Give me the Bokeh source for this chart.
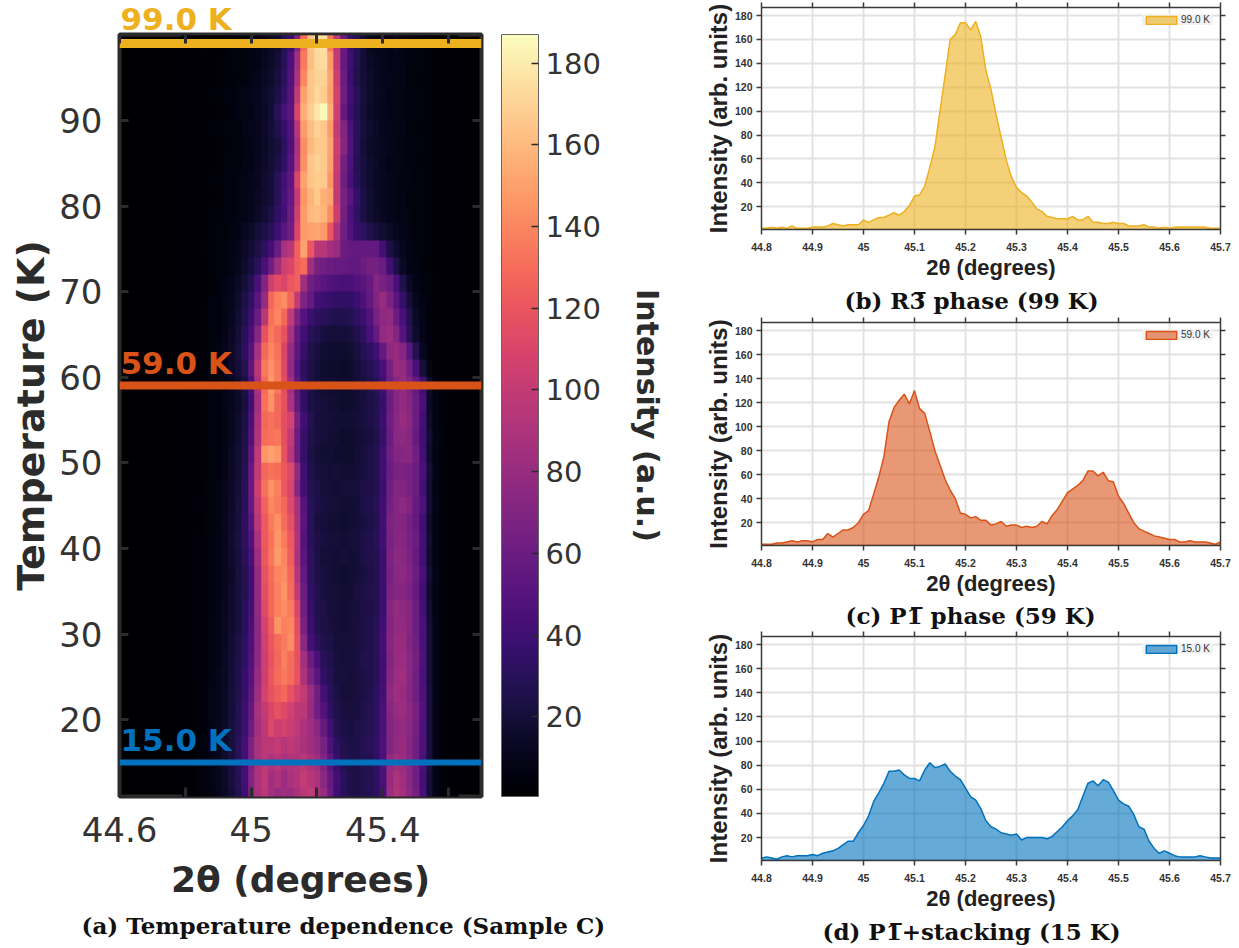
import numpy as np
from bokeh.plotting import figure
from bokeh.layouts import row, column
from bokeh.models import (ColorBar, FixedTicker, Label, Legend, LegendItem, LinearAxis,
                          LinearColorMapper, NumeralTickFormatter, Range1d, Title)
from bokeh.palettes import Magma256
from bokeh.embed import file_html
from bokeh.resources import INLINE

map_first_col = 44.80
map_col_step = 0.02
map_rows = [
[2,3,3,4,2,3,3,6,4,5,9,9,11,15,16,29,37,70,130,164,174,175,134,97,59,36,29,18,12,10,10,9,12,7,6,6,4,4,3,3,2,3],
[2,2,2,3,3,3,4,5,5,6,7,9,12,15,20,30,45,85,135,162,172,174,148,100,58,40,28,19,14,12,10,9,9,7,6,5,5,4,3,3,2,2],
[2,2,3,3,3,3,4,4,6,6,8,10,13,16,22,32,48,90,140,165,170,170,152,104,60,38,26,20,16,12,10,10,8,8,6,5,4,4,3,3,3,2],
[2,2,3,3,4,4,5,6,7,8,10,12,15,18,24,36,50,100,150,165,172,168,150,108,62,42,30,22,16,13,11,9,8,7,6,5,5,4,3,3,2,2],
[2,3,3,3,3,4,4,6,7,8,9,12,14,18,30,44,52,110,155,168,178,186,155,105,58,38,28,20,15,12,10,9,8,7,6,6,5,4,3,3,2,2],
[2,2,3,3,4,4,5,5,6,8,10,11,15,20,26,36,48,95,148,162,170,165,148,100,70,46,30,22,17,14,11,10,8,8,6,5,4,4,3,3,2,2],
[2,2,2,3,3,4,4,5,6,7,9,11,14,18,22,32,46,88,142,160,166,166,152,104,72,48,30,20,15,13,12,10,9,7,6,5,5,4,3,3,2,2],
[2,2,3,3,3,4,5,5,6,8,9,12,15,19,24,34,50,92,144,164,170,166,150,102,64,46,28,22,16,14,11,9,8,7,6,5,4,4,3,3,3,2],
[2,3,3,3,4,4,5,6,7,8,10,12,17,20,30,42,54,110,150,164,168,166,146,100,62,44,30,22,17,13,12,10,9,7,7,5,5,4,3,3,2,2],
[2,2,3,3,3,4,5,6,7,8,10,13,16,20,30,44,56,100,146,158,166,156,152,100,66,52,36,24,18,14,12,10,9,8,6,6,5,4,3,3,2,2],
[2,2,3,3,4,4,5,6,7,9,11,14,18,24,34,42,60,105,148,160,162,158,142,104,64,46,34,24,18,15,12,10,9,8,7,5,5,4,3,3,2,2],
[2,2,3,3,4,5,6,7,9,12,15,20,24,30,40,52,62,110,148,150,152,148,120,90,62,48,36,32,26,22,18,14,11,9,7,6,5,4,3,3,3,2],
[2,3,3,4,4,5,6,8,10,14,18,24,32,42,60,88,95,125,150,120,95,95,85,80,60,58,56,58,56,56,42,24,16,11,8,6,5,4,3,3,2,2],
[2,2,3,3,4,5,6,8,11,16,22,30,44,62,85,105,110,125,130,85,66,62,60,58,58,55,55,60,64,64,60,40,24,14,9,7,5,4,3,3,3,2],
[2,2,3,3,4,6,7,10,14,20,28,44,70,105,115,110,120,125,85,62,56,52,48,46,44,44,48,52,58,72,66,60,44,26,14,9,6,5,4,3,2,2],
[2,2,3,3,5,6,8,11,16,24,34,52,80,128,138,142,128,100,68,56,42,38,36,34,34,34,38,46,56,70,80,68,52,36,20,11,7,5,4,3,2,2],
[2,3,3,4,5,6,8,12,18,26,38,60,96,132,140,128,100,68,50,38,32,30,28,26,26,28,32,38,48,66,76,78,60,44,26,14,8,5,4,3,3,2],
[2,2,3,4,5,6,9,13,20,30,44,72,118,136,128,118,88,56,42,30,26,22,20,20,20,22,26,32,44,58,78,82,70,50,30,16,9,6,4,3,2,2],
[2,3,3,4,5,7,10,15,22,32,50,88,128,140,132,110,80,54,36,26,22,18,17,17,16,18,22,28,32,40,56,76,80,72,52,28,12,6,4,3,3,2],
[2,2,3,4,5,7,10,14,20,28,54,96,135,145,135,112,78,50,32,24,20,17,16,16,15,16,20,24,28,34,44,66,80,78,64,44,20,8,4,3,2,2],
[2,2,3,4,5,6,8,12,16,24,44,90,130,148,135,115,85,54,34,24,20,18,17,17,16,17,19,22,26,30,40,62,74,80,70,58,40,16,7,4,2,2],
[2,3,3,4,5,6,8,11,15,22,40,85,132,145,128,118,90,56,34,24,22,20,18,18,16,17,18,22,24,28,36,60,72,78,72,60,44,14,7,4,3,2],
[2,3,3,4,5,6,8,12,16,24,44,90,128,132,128,116,108,66,40,28,22,20,20,18,18,18,20,22,24,28,38,62,74,80,74,60,42,16,7,4,3,2],
[2,2,3,4,5,6,8,12,17,25,48,92,130,132,134,116,100,60,36,26,22,20,18,18,16,17,18,20,22,26,36,60,74,76,72,58,40,18,8,5,2,2],
[3,3,3,4,5,6,9,13,18,26,52,98,146,150,146,118,95,60,36,24,20,18,18,16,17,16,18,22,24,28,40,62,70,72,74,62,42,16,7,4,3,2],
[2,3,3,4,5,6,9,13,19,28,56,100,128,132,130,122,112,78,40,26,22,20,18,20,18,18,20,22,24,28,40,60,66,68,66,60,44,20,8,4,3,2],
[2,2,3,5,5,7,10,14,20,30,58,104,132,145,138,120,110,72,42,28,24,20,20,18,20,20,20,24,24,28,38,62,70,70,66,60,42,18,7,4,2,2],
[2,3,4,5,6,7,10,15,21,30,56,100,126,140,136,128,112,88,50,30,24,22,20,20,18,18,20,24,26,30,40,64,72,76,70,58,46,18,8,4,3,2],
[2,3,3,5,6,7,11,16,22,32,52,96,122,136,144,130,118,90,52,30,22,20,18,18,17,18,20,22,24,28,40,68,72,70,64,56,40,16,7,4,2,2],
[2,3,4,5,6,8,11,17,23,32,48,90,122,132,146,136,122,92,50,30,24,22,20,20,18,20,20,24,26,30,40,66,72,72,66,60,42,18,7,4,3,2],
[2,3,4,5,6,8,11,16,22,30,44,84,120,134,148,140,124,90,52,32,24,20,20,18,20,18,20,24,26,28,38,68,76,74,68,58,42,16,7,4,2,2],
[3,3,4,5,6,8,11,15,21,28,40,80,118,130,140,142,128,94,56,32,24,22,20,18,17,18,20,22,24,28,38,66,74,76,70,60,44,18,8,4,3,2],
[2,3,4,5,6,8,11,16,21,28,40,78,116,128,138,146,130,100,60,34,26,22,20,20,18,18,22,24,26,28,38,68,72,72,68,58,40,16,7,4,2,2],
[2,3,4,5,6,8,12,16,22,30,42,78,112,128,138,142,136,110,62,36,26,24,20,20,18,20,20,24,24,28,38,72,80,76,72,60,42,18,7,4,3,2],
[3,3,4,5,7,9,12,17,22,30,44,76,108,124,146,138,140,116,66,38,28,24,22,20,18,20,22,24,26,30,40,70,78,78,72,60,44,20,8,4,3,2],
[3,3,4,5,7,9,12,18,24,32,46,76,106,120,130,136,142,118,74,42,32,26,24,20,20,20,22,24,26,30,42,72,80,80,70,62,44,20,8,4,3,2],
[3,3,4,5,7,9,13,18,25,34,48,76,104,118,128,138,130,118,86,60,44,30,26,22,20,20,22,26,26,30,40,70,80,82,74,64,46,20,8,4,3,2],
[3,3,4,5,7,10,13,19,26,36,50,80,104,120,130,135,130,118,90,68,52,34,28,22,22,20,22,24,26,30,40,72,82,84,74,62,44,20,8,4,3,2],
[3,3,4,6,8,10,14,20,26,36,52,84,108,118,124,128,118,108,100,82,62,42,30,24,20,20,22,24,26,32,42,76,84,80,72,62,46,22,8,4,3,2],
[3,3,4,6,8,10,14,20,28,38,56,88,100,110,118,112,106,98,96,80,62,48,34,26,22,22,22,26,28,32,44,72,80,82,76,66,48,22,9,4,3,2],
[3,3,4,6,8,11,15,21,28,38,60,86,98,112,104,108,102,98,90,84,74,58,40,28,24,22,24,26,28,32,44,70,76,78,74,64,46,22,9,4,3,2],
[3,3,5,6,8,11,16,22,30,42,68,88,96,96,100,94,98,94,88,84,78,66,46,32,26,24,24,28,30,34,46,70,78,80,72,62,46,22,9,4,3,2],
[3,3,5,6,8,11,16,22,30,42,68,88,96,90,94,88,92,92,96,90,84,70,52,36,28,25,24,27,28,33,45,78,85,82,74,62,44,22,8,4,3,2],
[3,3,5,6,8,11,15,21,29,42,70,90,98,84,90,82,88,92,100,94,90,74,58,42,30,26,24,26,28,32,44,80,90,84,74,62,42,20,8,4,3,2],
[3,3,4,5,7,10,14,20,28,40,68,88,96,86,80,84,82,88,96,100,88,80,60,40,30,26,24,26,28,32,44,82,92,86,76,64,44,20,8,4,3,2],
]

theta_start = 44.8
theta_step = 0.01
profile_99 = [2,2,3,2,3,2,4,2,2,2,3,3,3,4,6,5,4,5,5,5,9,7,9,11,11,13,15,13,16,21,29,30,37,53,70,100,130,160,164,174,174,168,175,162,134,118,97,78,59,45,36,32,29,24,18,16,12,11,10,10,10,12,9,9,12,7,7,6,6,7,6,6,4,4,4,5,3,3,2,3,2,3,3,3,3,3,3,3,2,2,2]
profile_59 = [2,2,2,3,3,4,5,4,5,5,4,6,6,11,8,11,14,14,16,20,27,30,44,58,75,104,116,122,127,119,130,115,111,96,80,68,56,47,40,28,27,24,25,22,22,18,19,21,17,18,18,16,17,16,17,21,19,26,31,38,45,48,51,55,63,63,59,62,55,54,42,36,28,20,15,13,11,9,8,7,6,6,4,4,5,4,4,4,3,2,4]
profile_15 = [3,4,3,2,4,5,4,5,5,5,6,5,7,8,9,11,14,17,17,24,30,38,50,57,65,75,75,76,72,69,69,67,76,82,78,79,81,75,71,68,61,54,51,44,34,29,27,24,23,22,23,18,20,20,20,20,19,21,25,29,34,38,43,54,65,67,63,68,66,59,51,48,46,39,29,27,17,11,7,9,7,5,4,4,4,4,5,4,3,3,3]

map_x_ticks = [44.6, 44.8, 45.0, 45.2, 45.4, 45.6]
map_x_labels = {44.6: "44.6", 44.8: "", 45.0: "45", 45.2: "", 45.4: "45.4", 45.6: ""}
map_y_ticks = [20, 30, 40, 50, 60, 70, 80, 90]
bar_ticks = [20, 40, 60, 80, 100, 120, 140, 160, 180]
marks = [(99, "99.0 K", "#edb120", 9), (59, "59.0 K", "#d95319", 8), (15, "15.0 K", "#0072bd", 6)]
prof_x_ticks = [44.8, 44.9, 45.0, 45.1, 45.2, 45.3, 45.4, 45.5, 45.6, 45.7]
prof_y_ticks = [20, 40, 60, 80, 100, 120, 140, 160, 180]

DARK = "#2b2b2b"
SERIF = "DejaVu Serif"

def style_map_axis(ax, ticks, hide=False):
    ax.ticker = FixedTicker(ticks=ticks)
    ax.axis_line_color = None
    ax.major_tick_in = 9
    ax.major_tick_out = 0
    ax.major_tick_line_color = DARK
    ax.major_tick_line_width = 3
    ax.minor_tick_line_color = None
    ax.major_label_text_font = "DejaVu Sans"
    ax.major_label_text_font_size = "1px" if hide else "34px"
    ax.major_label_text_color = "#333333"
    ax.major_label_standoff = 0 if hide else 17
    if hide:
        ax.major_label_overrides = {t: "" for t in ticks}
    ax.axis_label_text_font = "DejaVu Sans"
    ax.axis_label_text_font_style = "bold"
    ax.axis_label_text_font_size = "36px"
    ax.axis_label_text_color = DARK

# ---------- left heat map ----------
left = figure(width=690, height=945, output_backend="svg", toolbar_location=None,
              x_range=Range1d(44.6, 45.7), y_range=Range1d(11, 100.1),
              min_border_left=119, min_border_right=209, min_border_top=34, min_border_bottom=149,
              background_fill_color="#000004", outline_line_color=DARK, outline_line_width=4)
left.grid.visible = False
bottom_ax = left.below[0]
left_ax = left.left[0]
mapper = LinearColorMapper(palette=Magma256, low=0.5, high=187)
left.image(image=[np.array(map_rows[::-1], dtype=float)], x=map_first_col - map_col_step / 2, y=10,
           dw=map_col_step * len(map_rows[0]), dh=2 * len(map_rows), color_mapper=mapper)
top_ax = LinearAxis(); style_map_axis(top_ax, map_x_ticks, True); left.add_layout(top_ax, "above")
for t, lab, col, w in marks:
    left.hspan(y=[t], line_color=col, line_width=w)
    if t >= 99:
        left.add_layout(Title(text=lab, text_color=col, text_font="DejaVu Sans", text_font_style="bold",
                              text_font_size="31px", align="left", offset=1, standoff=-4), "above")
    else:
        left.add_layout(Label(x=44.6, y=t, x_offset=1, y_offset=w / 2 + 1, text=lab, text_color=col,
                              text_font="DejaVu Sans", text_font_style="bold", text_font_size="31px",
                              text_baseline="bottom"))

style_map_axis(bottom_ax, map_x_ticks)
bottom_ax.major_label_overrides = map_x_labels
bottom_ax.major_label_standoff = 20
bottom_ax.axis_label = "2θ (degrees)"
bottom_ax.axis_label_standoff = 14
style_map_axis(left_ax, map_y_ticks)
left_ax.axis_label = "Temperature (K)"
left_ax.axis_label_text_font_size = "38px"
left_ax.axis_label_standoff = 3
right_ax = LinearAxis(); style_map_axis(right_ax, map_y_ticks, True); left.add_layout(right_ax, "right")

spacer_ax = LinearAxis(ticker=FixedTicker(ticks=[50]), axis_line_color=None, major_tick_line_color=None,
                       minor_tick_line_color=None, major_tick_in=0, major_tick_out=20,
                       major_label_overrides={50: ""},
                       major_label_text_font_size="1px", major_label_standoff=0)
left.add_layout(spacer_ax, "right")

bar = ColorBar(color_mapper=mapper, ticker=FixedTicker(ticks=bar_ticks), width=37, margin=0, padding=0,
               bar_line_color="#666666", bar_line_width=1,
               major_tick_line_color=DARK, major_tick_line_width=1.5, major_tick_in=7,
               minor_tick_line_color=None, major_label_text_font="DejaVu Sans",
               major_label_text_font_size="29px", major_label_text_color="#333333", label_standoff=7)
left.add_layout(bar, "right")

label_ax = LinearAxis(ticker=FixedTicker(ticks=[]), axis_line_color=None, major_tick_line_color=None,
                      minor_tick_line_color=None, major_tick_in=0, major_tick_out=0,
                      major_label_text_font_size="1px", major_label_standoff=0,
                      axis_label="Intensity (a.u.)", axis_label_text_font="DejaVu Sans",
                      axis_label_text_font_style="bold", axis_label_text_font_size="30px",
                      axis_label_text_color=DARK, axis_label_standoff=26,
                      axis_label_orientation="parallel")
left.add_layout(label_ax, "right")
left.add_layout(Title(text="(a) Temperature dependence (Sample C)", text_font=SERIF, text_font_style="bold",
                      text_font_size="23px", text_color="#111111", align="left", offset=-38, standoff=14), "below")

# ---------- right profiles ----------
def profile(values, label, color, caption, height, top, bottom, cap_off, cap_standoff, margin=0):
    xs = [theta_start + i * theta_step for i in range(len(values))]
    p = figure(width=544, height=height, output_backend="svg", toolbar_location=None,
               x_range=Range1d(44.8, 45.7), y_range=Range1d(1, 186.7),
               min_border_left=71, min_border_right=14, min_border_top=top, min_border_bottom=bottom,
               outline_line_color=None, margin=(margin, 0, 0, 0))
    a = p.patch(x=xs + [xs[-1], xs[0]], y=values + [1, 1], fill_color=color, fill_alpha=0.6,
                line_color=color, line_width=1.5)
    p.xgrid.grid_line_color = "#e2e2e2"
    p.ygrid.grid_line_color = "#e2e2e2"
    p.xgrid.grid_line_width = 2
    p.ygrid.grid_line_width = 2
    p.xgrid.ticker = FixedTicker(ticks=prof_x_ticks)
    p.ygrid.ticker = FixedTicker(ticks=prof_y_ticks)

    def style(ax, ticks, hide=False):
        ax.ticker = FixedTicker(ticks=ticks)
        ax.axis_line_color = "#3a3a3a"
        ax.axis_line_width = 1.5
        ax.major_tick_in = 0
        ax.major_tick_out = 5
        ax.major_tick_line_color = "#3a3a3a"
        ax.major_tick_line_width = 1.5
        ax.minor_tick_line_color = None
        ax.major_label_text_font = "Liberation Sans"
        ax.major_label_text_font_style = "bold"
        ax.major_label_text_font_size = "1px" if hide else "10.5px"
        ax.major_label_text_color = "#333333"
        ax.major_label_standoff = 0 if hide else 4
        if hide:
            ax.major_label_overrides = {t: "" for t in ticks}
        ax.axis_label_text_font = "Liberation Sans"
        ax.axis_label_text_font_style = "bold"
        ax.axis_label_text_color = "#222222"

    style(p.xaxis[0], prof_x_ticks)
    p.xaxis[0].formatter = NumeralTickFormatter(format="0.[0]")
    p.xaxis[0].major_label_standoff = 8
    p.xaxis[0].axis_label = "2θ (degrees)"
    p.xaxis[0].axis_label_text_font_size = "22px"
    p.xaxis[0].axis_label_standoff = 1
    style(p.yaxis[0], prof_y_ticks)
    p.yaxis[0].axis_label = "Intensity (arb. units)"
    p.yaxis[0].axis_label_text_font_size = "24px"
    p.yaxis[0].axis_label_standoff = 0
    t = LinearAxis(); style(t, prof_x_ticks, True); p.add_layout(t, "above")
    r = LinearAxis(); style(r, prof_y_ticks, True); p.add_layout(r, "right")

    leg = Legend(items=[LegendItem(label=label, renderers=[a])], location="top_right", margin=7, padding=3,
                 background_fill_color="#f2f2f2", background_fill_alpha=1, border_line_color=None,
                 glyph_width=38, glyph_height=10, label_standoff=1, label_height=10, label_width=32,
                 label_text_font="Liberation Sans", label_text_font_size="10px", label_text_color="#333333")
    p.add_layout(leg)
    p.add_layout(Title(text=caption, text_font=SERIF, text_font_style="bold", text_font_size="23px",
                       text_color="#111111", align="left", offset=cap_off, standoff=cap_standoff), "below")
    return p

b = profile(profile_99, "99.0 K", "#edb120", "(b) R3\u0305 phase (99 K)", 316, 7, 87, 83, 4)
c = profile(profile_59, "59.0 K", "#d95319", "(c) P1\u0305 phase (59 K)", 315, 6, 86, 84, 3)
d = profile(profile_15, "15.0 K", "#0072bd", "(d) P1\u0305+stacking (15 K)", 317, 6, 87, 61, 4, margin=-1)

right = column(b, c, d, spacing=0)
page = row(left, right, spacing=0)
open("out.html", "w").write(file_html(page, INLINE))
